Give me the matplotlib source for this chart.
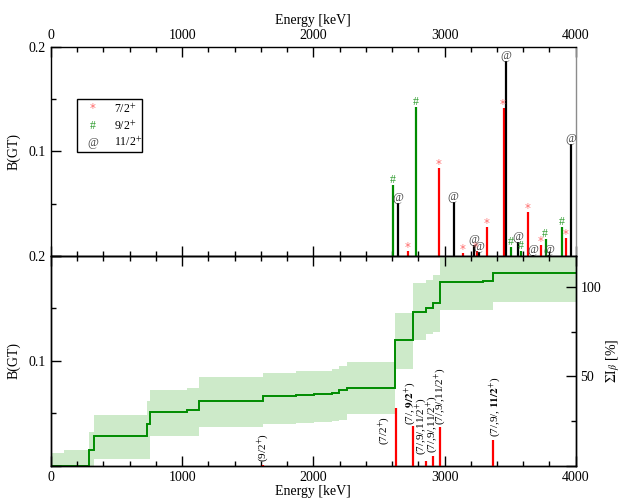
import matplotlib.pyplot as plt
from matplotlib.patches import Rectangle
from matplotlib.ticker import MultipleLocator, FuncFormatter

plt.rcParams['font.family'] = 'Liberation Serif'
plt.rcParams['mathtext.fontset'] = 'stix'

# upper panel: B(GT) of each level [keV], grouped by spin
lev_energy = [2606, 2646, 2720, 2784, 2957, 3069, 3143, 3224, 3244, 3265, 3321, 3450,
              3468, 3510, 3560, 3585, 3639, 3678, 3733, 3771, 3800, 3896, 3926, 3967]
lev_bgt = [0.0675, 0.051, 0.005, 0.142, 0.084, 0.052, 0.003, 0.011, 0.005, 0.004, 0.028, 0.1415,
           0.186, 0.0085, 0.013, 0.005, 0.0425, 0.001, 0.011, 0.0158, 0.001, 0.028, 0.0174, 0.1067]
lev_spin = ['9/2', '11/2', '7/2', '9/2', '7/2', '11/2', '7/2', '11/2', '7/2', '11/2', '7/2', '7/2',
            '11/2', '9/2', '11/2', '9/2', '7/2', '11/2', '7/2', '9/2', '11/2', '9/2', '7/2', '11/2']

spin_order = ['7/2', '9/2', '11/2']
spin_symbol = {'7/2': '*', '9/2': '#', '11/2': '@'}
spin_color = {'7/2': '#ff0000', '9/2': '#008c00', '11/2': '#000000'}
symbol_color = {'7/2': '#ff6a6a', '9/2': '#2a9a2a', '11/2': '#404040'}
symbol_font = {'7/2': ('DejaVu Sans', 8.5, 3.5), '9/2': ('Liberation Serif', 8.5, 5),
               '11/2': ('Liberation Serif', 8.5, 5)}

# lower panel: cumulative beta feeding [%] (steps), with error band
cum_edges = [0, 96, 290, 331, 735, 756, 1036, 1127, 1616, 1870, 2002, 2142, 2198, 2254,
             2622, 2762, 2858, 2914, 2965, 3290, 3372, 4000]
cum_level = [0, 0, 9, 17, 23.3, 30, 31.4, 36.4, 38.8, 39.4, 40.0, 40.8, 42.2, 43.5,
             70.2, 85.7, 87.9, 90.7, 102.8, 103.4, 107.8]
cum_upper = [7.3, 9, 18.8, 28.6, 36, 42.6, 43.7, 49.6, 52, 52.8, 53.2, 54, 55.6, 58.2,
             85.6, 101.9, 103.8, 106.6, 125, 125, 125]
cum_lower = [0, 0, 0, 3.9, 4, 17, 17, 21.6, 23.5, 24, 24.5, 25, 25.4, 29.0,
             54.3, 70.2, 73.9, 74.8, 87, 87, 91.6]

# lower panel: B(GT) of identified levels with spin assignment
bar_energy = [1616, 2627, 2757, 2858, 2914, 2965, 3367]
bar_bgt = [0.0012, 0.0555, 0.038, 0.005, 0.0095, 0.0375, 0.025]
bar_label = [r'(9/2$^{+}$)', r'(7/2$^{+}$)', r'(7/, $\mathbf{9/2}^{+}$)',
             r'(7/,9/,11/2$^{+}$)', r'(7/,9/,11/2$^{+}$)', r'(7/,9/,11/2$^{+}$)',
             r'(7/,9/, $\mathbf{11/2}^{+}$)']
label_shift = [(0, 3), (-11, -37), (-3, 1), (-5, 6), (-1, 3), (0, 2), (2, 3)]

fig = plt.figure(figsize=(6.22, 5.03), dpi=100)
ax_top = fig.add_axes([0.082, 0.491, 0.8436, 0.4165])
ax_bot = fig.add_axes([0.082, 0.0736, 0.8436, 0.4175])
ax_sum = ax_bot.twinx()

no_zero = FuncFormatter(lambda v, p: '' if abs(v) < 1e-9 else f'{v:g}')

for a in (ax_top, ax_bot, ax_sum):
    for s in a.spines.values():
        s.set_linewidth(1.0)

for a in (ax_top, ax_bot):
    a.set_xlim(0, 4000)
    a.set_ylim(0, 0.2)
    a.xaxis.set_major_locator(MultipleLocator(1000))
    a.xaxis.set_minor_locator(MultipleLocator(200))
    a.yaxis.set_major_locator(MultipleLocator(0.1))
    a.yaxis.set_minor_locator(MultipleLocator(0.05))
    a.yaxis.set_major_formatter(no_zero)
    a.tick_params(which='both', direction='in', top=True, bottom=True, right=False, labelsize=10)
    a.tick_params(which='major', length=7, width=1)
    a.tick_params(which='minor', length=3.5, width=1)
    a.set_ylabel('B(GT)', fontsize=10, labelpad=6)

# upper panel
for e, v, sp in zip(lev_energy, lev_bgt, lev_spin):
    fam, size, lift = symbol_font[sp]
    ax_top.vlines(e, 0, v, colors=spin_color[sp], lw=1.6)
    ax_top.annotate(spin_symbol[sp], (e, v), xytext=(-0.5, lift), textcoords='offset pixels',
                    ha='center', va='center', fontsize=size, family=fam, color=symbol_color[sp])

ax_top.tick_params(axis='x', labeltop=True, labelbottom=False)
ax_top.xaxis.set_label_position('top')
ax_top.set_xlabel('Energy [keV]', fontsize=10, labelpad=3)
ax_top.spines['right'].set_color('0.55')

# legend box drawn by hand (symbols are plain characters)
ax_top.add_patch(Rectangle((0.049, 0.4964), 0.1244, 0.2544, transform=ax_top.transAxes,
                           facecolor='white', edgecolor='black', lw=1.0, zorder=5))
for row, sp in zip([0.702, 0.622, 0.541], spin_order):
    fam, size, lift = symbol_font[sp]
    ax_top.text(0.0795, row, spin_symbol[sp], transform=ax_top.transAxes, ha='center',
                va='center', fontsize=size, family=fam, color=symbol_color[sp], zorder=6)
    ax_top.text(0.12, row, sp + '$^{+}$', transform=ax_top.transAxes, ha='left',
                va='center', fontsize=8.5, zorder=6)

# lower panel
ax_sum.stairs(cum_upper, cum_edges, baseline=cum_lower, fill=True, color='#cdeac9', lw=0)
ax_sum.stairs(cum_level, cum_edges, baseline=None, color='#008c00', lw=1.4)
ax_sum.set_ylim(0, 117.2)
ax_sum.yaxis.set_major_locator(MultipleLocator(50))
ax_sum.yaxis.set_minor_locator(MultipleLocator(25))
ax_sum.yaxis.set_major_formatter(no_zero)
ax_sum.tick_params(which='both', direction='in', labelsize=10)
ax_sum.tick_params(which='major', length=7, width=1)
ax_sum.tick_params(which='minor', length=3.5, width=1)
ax_sum.set_ylabel(r'$\Sigma$I$_{\beta}$ [%]', fontsize=10, labelpad=2)

ax_bot.set_zorder(ax_sum.get_zorder() + 1)
ax_bot.patch.set_visible(False)
ax_bot.vlines(bar_energy, 0, bar_bgt, colors='#ff0000', lw=1.6)
for e, v, txt, (dx, dy) in zip(bar_energy, bar_bgt, bar_label, label_shift):
    ax_bot.annotate(txt, (e, v), xytext=(dx, dy), textcoords='offset pixels',
                    rotation=90, ha='center', va='bottom', fontsize=8)
ax_bot.set_xlabel('Energy [keV]', fontsize=10, labelpad=1)

fig.savefig('out.png', dpi=100)
